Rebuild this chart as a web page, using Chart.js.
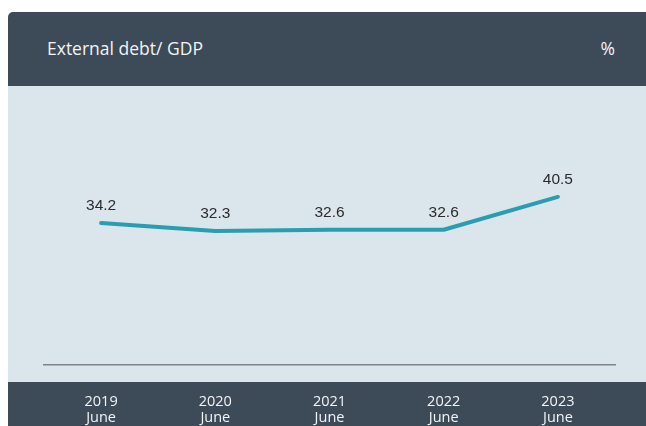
<!DOCTYPE html>
<html>
<head>
<meta charset="utf-8">
<script src="https://cdn.jsdelivr.net/npm/chart.js@4/dist/chart.umd.min.js"></script>
<style>
  html, body { margin: 0; padding: 0; background: #ffffff; width: 646px; height: 426px; overflow: hidden; }
  .card {
    position: absolute; left: 8px; top: 12px; width: 638px; height: 414px;
    background: #3d4a57; border-top-left-radius: 5px; overflow: hidden;
  }
  .head {
    position: absolute; left: 0; top: 0; width: 100%; height: 74px;
    font-family: "Open Sans", sans-serif; font-size: 17.5px; color: #f2f4f6;
  }
  .head .title { position: absolute; left: 39px; top: 24px; }
  .head .unit { position: absolute; right: 31px; top: 24px; }
  .plot { position: absolute; left: 0; top: 74px; width: 638px; height: 340px; }
</style>
</head>
<body>
<div class="card">
  <div class="head">
    <div class="title">External debt/ GDP</div>
    <div class="unit">%</div>
  </div>
  <div class="plot"><canvas id="c" width="638" height="340"></canvas></div>
</div>
<script>
// External debt as a share of GDP, end of June each year
const years = ['2019', '2020', '2021', '2022', '2023'];
const month = 'June';
const debtToGdp = [34.2, 32.3, 32.6, 32.6, 40.5];

const LIGHT_BG = '#dbe5ec';
const BAND_TOP = 296; // where the light plot panel ends and the dark label band begins

// Paints the light panel behind the plot, leaving the dark label band below it
const panelBackground = {
  id: 'panelBackground',
  beforeDraw(chart) {
    const ctx = chart.ctx;
    ctx.save();
    ctx.fillStyle = LIGHT_BG;
    ctx.fillRect(0, 0, chart.width, BAND_TOP);
    ctx.restore();
  }
};

// Writes each value above its point
const valueLabels = {
  id: 'valueLabels',
  afterDatasetsDraw(chart) {
    const ctx = chart.ctx;
    const meta = chart.getDatasetMeta(0);
    const values = chart.data.datasets[0].data;
    ctx.save();
    ctx.font = '15.5px "Liberation Sans", Arial, sans-serif';
    ctx.fillStyle = '#2b2b2b';
    ctx.textAlign = 'center';
    ctx.textBaseline = 'middle';
    meta.data.forEach((pt, i) => {
      ctx.fillText(values[i].toFixed(1), pt.x, pt.y - 17);
    });
    ctx.restore();
  }
};

new Chart(document.getElementById('c'), {
  type: 'line',
  data: {
    labels: years.map(y => [y, month]),
    datasets: [{
      data: debtToGdp,
      borderColor: '#2a9db0',
      borderWidth: 4,
      pointRadius: 0,
      tension: 0,
      borderCapStyle: 'round',
      borderJoinStyle: 'round',
      fill: false
    }]
  },
  options: {
    responsive: false,
    animation: false,
    devicePixelRatio: 1,
    layout: { padding: { top: 30, left: 36, right: 31, bottom: 0 } },
    plugins: { legend: { display: false }, tooltip: { enabled: false }, title: { display: false } },
    scales: {
      x: {
        offset: true,
        grid: { display: false, drawTicks: false },
        border: { display: true, color: '#7f8488', width: 1.5 },
        ticks: {
          color: '#f2f4f6',
          padding: 29,
          maxRotation: 0,
          autoSkip: false,
          font: { family: '"Open Sans", sans-serif', size: 14.5, lineHeight: 1.1 }
        },
        afterFit(scale) { scale.height = 61; }
      },
      y: {
        display: false,
        min: 0,
        max: 60
      }
    }
  },
  plugins: [panelBackground, valueLabels]
});
</script>
</body>
</html>
